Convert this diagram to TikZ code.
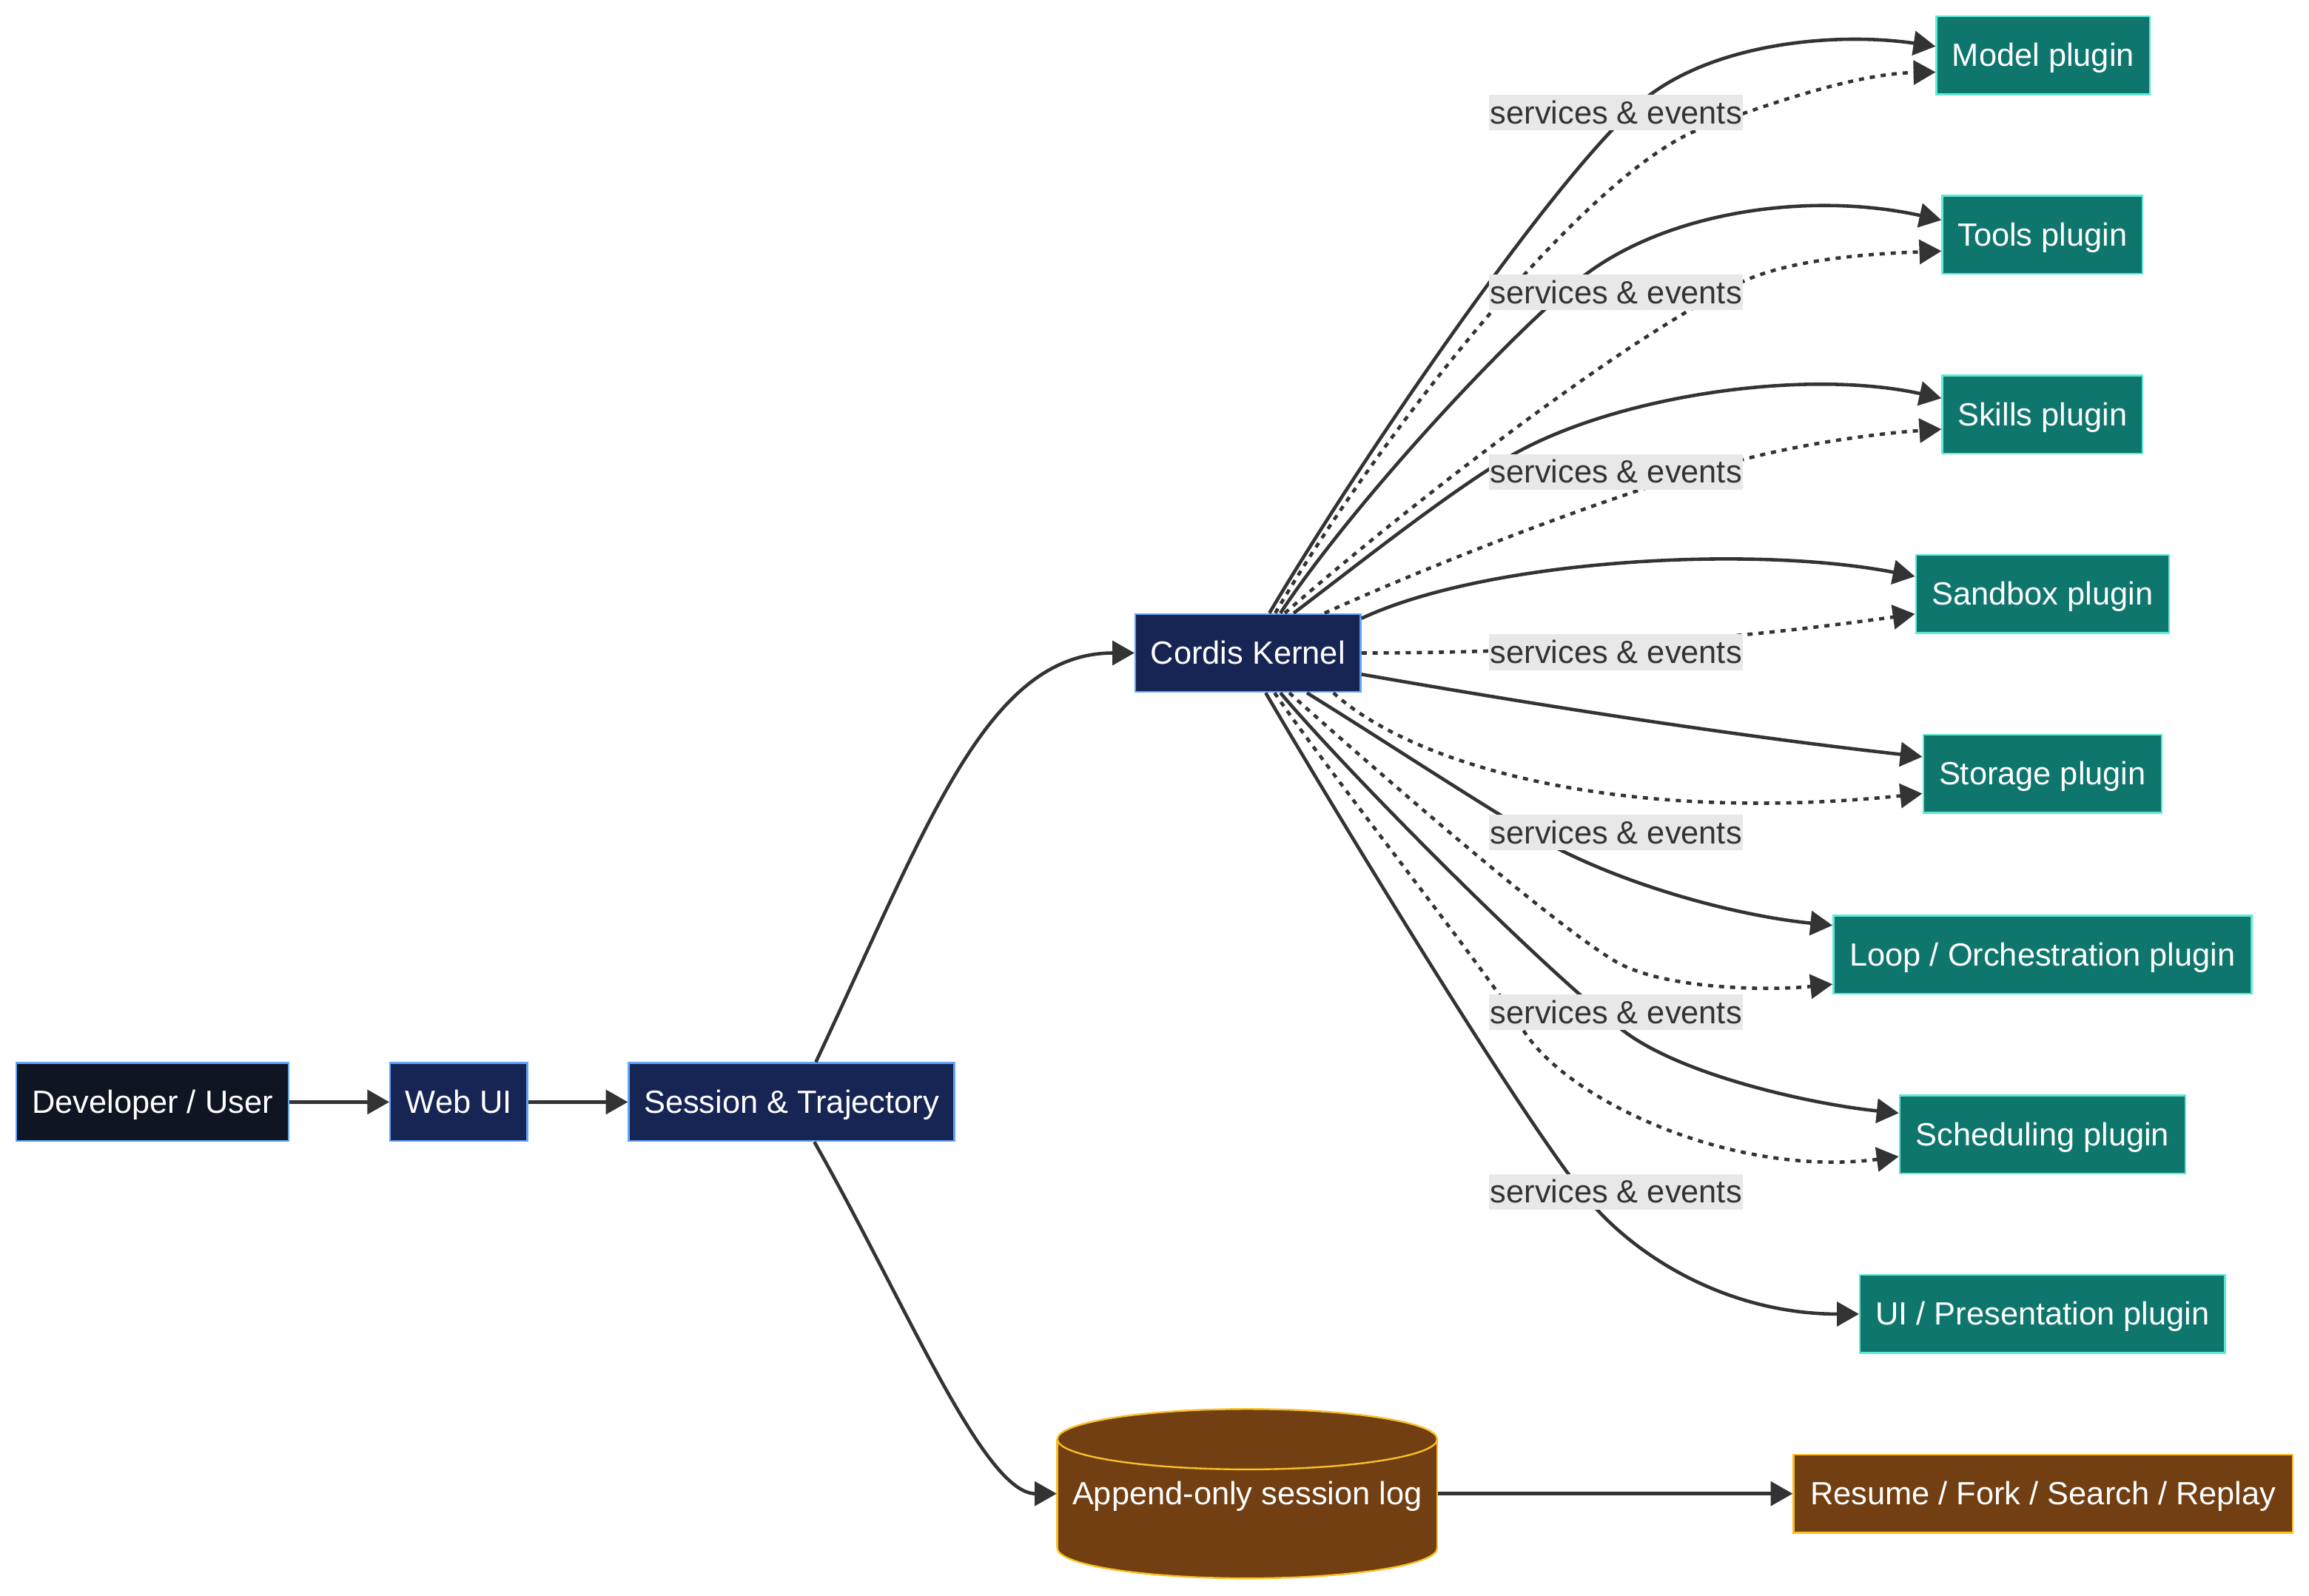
\documentclass[tikz,border=0pt]{standalone}
\usepackage{fontspec}
\setmainfont{Liberation Sans}
\usetikzlibrary{arrows.meta,calc}
\definecolor{edgec}{HTML}{333333}
\definecolor{navy}{HTML}{172554}
\definecolor{userc}{HTML}{0F1522}
\definecolor{blueb}{HTML}{60A5FA}
\definecolor{tealf}{HTML}{0F766E}
\definecolor{tealb}{HTML}{5EEAD4}
\definecolor{brownf}{HTML}{713F12}
\definecolor{amberb}{HTML}{FBBF24}
\definecolor{lblbg}{HTML}{E8E8E8}
\begin{document}
\begin{tikzpicture}[x=0.5pt,y=-0.5pt,
  txt/.style={font=\fontsize{10.9pt}{13pt}\selectfont, text height=9.86pt, text depth=2.31pt},
  box/.style={txt, rectangle, draw, line width=0.6pt, minimum height=26.5pt, inner sep=0pt, text=white},
  corebox/.style={box, fill=navy, draw=blueb},
  userbox/.style={box, fill=userc, draw=blueb},
  plugbox/.style={box, fill=tealf, draw=tealb},
  logbox/.style={box, fill=brownf, draw=amberb},
  flow/.style={draw=edgec, line width=1.15pt, -{Triangle[length=7.5pt,width=8.2pt]}},
  svc/.style={flow, dash pattern=on 1.75pt off 2pt},
  lbl/.style={txt, fill=lblbg, text=edgec, inner xsep=0.4pt, inner ysep=0pt, minimum height=11.5pt}
]
\useasboundingbox (0,0) rectangle (1568,1084);
\fill[white] (0,0) rectangle (1568,1084);

% nodes
\node[userbox, minimum width=92.5pt] (dev) at (103.5,748.5) {Developer / User};
\node[corebox, minimum width=46.5pt] (web) at (311.5,748.5) {Web UI};
\node[corebox, minimum width=110.5pt] (sess) at (537.5,748.5) {Session \& Trajectory};
\node[corebox, minimum width=76.5pt] (kern) at (847.5,443.5) {Cordis Kernel};

\node[plugbox, minimum width=72.5pt] (model) at (1387.5,37.5) {Model plugin};
\node[plugbox, minimum width=68pt] (tools) at (1387,159.5) {Tools plugin};
\node[plugbox, minimum width=68pt] (skills) at (1387,281.5) {Skills plugin};
\node[plugbox, minimum width=86pt] (sandbox) at (1387,403.5) {Sandbox plugin};
\node[plugbox, minimum width=81pt] (storage) at (1387,525.5) {Storage plugin};
\node[plugbox, minimum width=142pt] (loop) at (1387,648.5) {Loop / Orchestration plugin};
\node[plugbox, minimum width=97pt] (sched) at (1387,770.5) {Scheduling plugin};
\node[plugbox, minimum width=124pt] (ui) at (1387,892.5) {UI / Presentation plugin};

% cylinder
\begin{scope}[draw=amberb, line width=0.6pt]
  \filldraw[fill=brownf] (847,1051.5) ellipse [x radius=129, y radius=20.5];
  \fill[brownf] (718,977.5) rectangle (976,1051.5);
  \draw (718,977.5) -- (718,1051.5) (976,977.5) -- (976,1051.5);
  \filldraw[fill=brownf] (847,977.5) ellipse [x radius=129, y radius=20.5];
\end{scope}
\node[txt, text=white, inner sep=0pt, minimum width=129pt, minimum height=57.5pt] (cyl) at (847,1014.5) {Append-only session log};
\node[logbox, minimum width=169.5pt] (resume) at (1387.5,1014.5) {Resume / Fork / Search / Replay};

% main flow
\draw[flow] (dev) -- (web);
\draw[flow] (web) -- (sess);
\draw[flow] ($(sess.north)+(16.5,0)$) .. controls (630,560) and (670,443.5) .. (kern.west);
\draw[flow] ($(sess.south)+(15.5,0)$) .. controls (615,885) and (668,1014.5) .. (cyl.west);
\draw[flow] (cyl.east) -- (resume.west);

% kernel to plugins
\draw[flow] ($(kern.north)+(14.5,0)$) .. controls (925,310) and (1065,105) .. (1121,64)
  .. controls (1170,28) and (1250,22) .. ($(model.west)+(0,-6)$);
\draw[svc] ($(kern.north)+(18.5,0)$) .. controls (940,290) and (1080,115) .. (1156,87)
  .. controls (1200,71) and (1260,50) .. ($(model.west)+(0,11.5)$);

\draw[flow] ($(kern.north)+(22,0)$) .. controls (920,340) and (1030,222) .. (1076,187)
  .. controls (1134,143) and (1230,130) .. ($(tools.west)+(0,-10)$);
\draw[svc] ($(kern.north)+(25,0)$) .. controls (960,340) and (1110,225) .. (1184,191)
  .. controls (1220,174.5) and (1280,172) .. ($(tools.west)+(0,11)$);

\draw[flow] ($(kern.north)+(31,0)$) .. controls (915,389) and (985,333) .. (1027,309)
  .. controls (1097,269) and (1225,250) .. ($(skills.west)+(0,-11)$);
\draw[svc] ($(kern.north)+(52,0)$) .. controls (980,380) and (1110,330) .. (1184,312)
  .. controls (1230,300) and (1280,294) .. ($(skills.west)+(0,10)$);

\draw[flow] ($(kern.east)+(0,-23.5)$) .. controls (1010,380) and (1190,370) .. ($(sandbox.west)+(0,-12)$);
\draw[svc] (kern.east) .. controls (1060,443.5) and (1180,434) .. ($(sandbox.west)+(0,13.5)$);

\draw[flow] ($(kern.east)+(0,14.5)$) .. controls (1050,480) and (1180,500) .. ($(storage.west)+(0,-11.5)$);
\draw[svc] ($(kern.south)+(58,0)$) .. controls (960,520) and (1100,560) .. ($(storage.west)+(0,13.5)$);

\draw[flow] ($(kern.south)+(40,0)$) .. controls (940,503) and (1020,556) .. (1057,576)
  .. controls (1110,603) and (1180,622) .. ($(loop.west)+(0,-20)$);
\draw[svc] ($(kern.south)+(28,0)$) .. controls (915,506) and (1050,625) .. (1097,653)
  .. controls (1130,672) and (1200,673) .. ($(loop.west)+(0,20)$);

\draw[flow] ($(kern.south)+(22,0)$) .. controls (920,530) and (1050,660) .. (1101,699)
  .. controls (1140,730) and (1230,750) .. ($(sched.west)+(0,-14.5)$);
\draw[svc] ($(kern.south)+(18,0)$) .. controls (905,528) and (1010,660) .. (1034,699)
  .. controls (1065,749) and (1180,800) .. ($(sched.west)+(0,15)$);

\draw[flow] ($(kern.south)+(12,0)$) .. controls (900,540) and (1045,780) .. (1084,821)
  .. controls (1120,860) and (1180,892.5) .. (ui.west);

% edge labels
\node[lbl] (l1) at (1097.5,76.5) {services \& events};
\node[lbl] (l2) at (1097.5,198.5) {services \& events};
\node[lbl] (l3) at (1097.5,320.5) {services \& events};
\node[lbl] (l4) at (1097.5,443) {services \& events};
\node[lbl] (l5) at (1097.5,565.5) {services \& events};
\node[lbl] (l6) at (1097.5,687.5) {services \& events};
\node[lbl] (l7) at (1097.5,809.5) {services \& events};
\end{tikzpicture}
\end{document}
